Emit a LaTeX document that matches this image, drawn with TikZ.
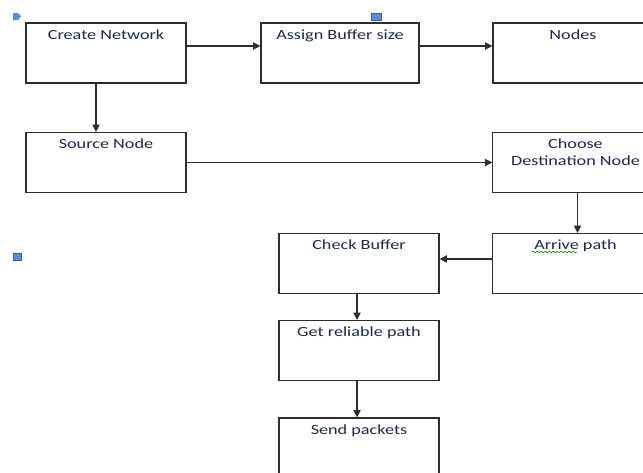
\documentclass[tikz,border=0pt]{standalone}
\usepackage{fontspec}
\setmainfont{Carlito}[FakeStretch=1.3]
\usetikzlibrary{arrows.meta,decorations.pathmorphing}
\definecolor{boxline}{RGB}{45,45,45}
\definecolor{txtcol}{RGB}{30,40,75}
\definecolor{handle}{RGB}{91,141,214}
\tikzset{
	box/.style={draw=boxline, line width=0.9pt, minimum width=120pt, minimum height=45pt, inner sep=0pt},
	txt/.style={anchor=base, yshift=-12.75pt, text=txtcol, font=\fontsize{10.5}{12.75}\selectfont, align=center},
	arr/.style={-{Triangle[length=5.5pt,width=5.5pt]}, draw=boxline, line width=0.85pt}
}
\begin{document}
\begin{tikzpicture}[x=0.75pt,y=-0.75pt]
	\useasboundingbox (0,0) rectangle (643,472);
	\clip (0,0) rectangle (643,472);
	\fill[white] (0,0) rectangle (643,472);
	\node[box, label={[txt]north:Create Network}] (create) at (106,53) {};
	\node[box, minimum width=118.5pt, label={[txt]north:Assign Buffer size}] (assign) at (340,53) {};
	\node[box, label={[txt]north:Nodes}] (nodes) at (573,53) {};
	\node[box, label={[txt]north:Source Node}] (source) at (106,162.5) {};
	\node[box, minimum width=124pt, label={[txt, yshift=-12.75pt]north:Choose\\Destination Node}] (choose) at (575.5,162.5) {};
	\node[box, minimum width=124pt, label={[txt]north:Arrive path}] (arrive) at (575.5,263.5) {};
	\node[box, label={[txt]north:Check Buffer}] (check) at (359,263.5) {};
	\node[box, label={[txt]north:Get reliable path}] (get) at (359,350.5) {};
	\node[box, label={[txt]north:Send packets}] (send) at (359,448) {};
	\draw[arr] ([yshift=5.25pt]create.east) -- ([yshift=5.25pt]assign.west);
	\draw[arr] ([yshift=5.25pt]assign.east) -- ([yshift=5.25pt]nodes.west);
	\draw[arr] ([xshift=-7.5pt]create.south) -- ([xshift=-7.5pt]source.north);
	\draw[arr] (source.east) -- (choose.west);
	\draw[arr] ([xshift=1.5pt]choose.south) -- ([xshift=1.5pt]arrive.north);
	\draw[arr] ([yshift=3.4pt]arrive.west) -- ([yshift=3.4pt]check.east);
	\draw[arr] ([xshift=-1.5pt]check.south) -- ([xshift=-1.5pt]get.north);
	\draw[arr] ([xshift=-1.5pt]get.south) -- ([xshift=-1.5pt]send.north);
	\draw[green!60!black, line width=0.5pt, decorate, decoration={snake, amplitude=0.6pt, segment length=3pt}] (532,252) -- (577,252);
	\fill[handle] (13,13) -- (18,13) -- (21,16.5) -- (18,20) -- (13,20) -- cycle;
	\filldraw[fill=handle, draw=handle!70!black, line width=0.4pt] (371,13) rectangle (381,20);
	\filldraw[fill=handle, draw=handle!70!black, line width=0.4pt] (13,253) rectangle (21,260);
\end{tikzpicture}
\end{document}
